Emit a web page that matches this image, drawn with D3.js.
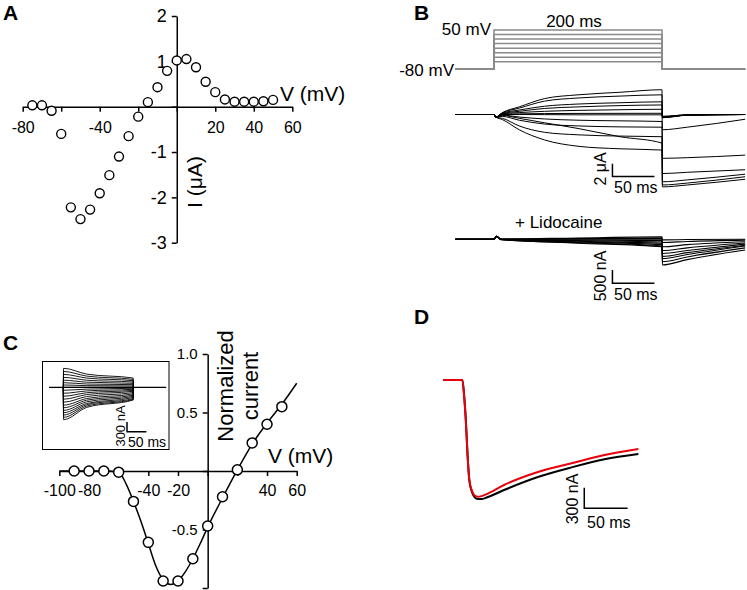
<!DOCTYPE html>
<html>
<head>
<meta charset="utf-8">
<script src="https://cdn.jsdelivr.net/npm/d3@7/dist/d3.min.js"></script>
<style>
  body { margin: 0; background: #fff; }
  svg text { font-family: "Liberation Sans", Arial, Helvetica, sans-serif; fill: #000; }
</style>
</head>
<body>
<script>
// ---- panel A: I-V relation (uA vs mV)
var ivA_V = [-75,-70,-65,-60,-55,-50,-45,-40,-35,-30,-25,-20,-15,-10,-5,0,5,10,15,20,25,30,35,40,45,50];
var ivA_I = [0.03,0.03,-0.09,-0.6,-2.22,-2.48,-2.27,-1.91,-1.51,-1.1,-0.65,-0.22,0.1,0.43,0.79,1.02,1.05,0.87,0.55,0.32,0.16,0.11,0.11,0.11,0.12,0.15];
var aTicksX = [-80,-60,-40,-20,0,20,40,60];
var aLabelsX = [-80,-40,20,40,60];
var aTicksY = [-3,-2,-1,0,1,2];
var aLabelsY = [2,1,-1,-2,-3];

// ---- panel B: voltage protocol (mV) and current traces
var holdV = -80;
var protoSteps = [50,35,20,5,-10,-25,-40,-55];
var pulseT = [10,30,60,100,150,200];          // ms
var currB = [                                  // uA
  [0.3,1.2,2.5,3.1,3.5,3.9],
  [0.25,1.0,2.1,2.6,2.9,3.1],
  [0.2,0.7,1.3,1.65,1.85,2.0],
  [0.15,0.5,0.95,1.2,1.4,1.5],
  [0.1,0.3,0.5,0.65,0.75,0.82],
  [0.05,0.1,0.15,0.17,0.18,0.19],
  [0,0,-0.02,-0.05,-0.05,-0.05],
  [-0.1,-0.4,-0.7,-0.9,-1.0,-1.1],
  [-0.3,-0.9,-1.5,-1.8,-1.95,-2.0],
  [-0.6,-1.8,-2.8,-3.2,-3.4,-3.5],
  [-0.15,-0.6,-1.3,-2.2,-3.5,-4.5],
  [-0.8,-2.4,-4.0,-5.0,-5.4,-5.6]
];
var tailT = [200.5,230,299];
var tailB = [
  [-11.1,-10.8,-9.8],
  [-0.5,-0.1,0],
  [-0.5,-0.1,0],
  [-0.4,-0.1,0],
  [-0.4,-0.1,0],
  [-0.3,-0.05,0],
  [-0.3,-0.05,0],
  [-2.4,-2.0,-0.75],
  [-6.9,-6.8,-6.4],
  [-9.3,-9.1,-8.7],
  [-10.6,-10.3,-9.4],
  [-11.4,-11.1,-10.2]
];
var lidoT = [8,100,200];
var currL = [                                  // nA
  [10,50,90],
  [5,25,40],
  [0,0,0],
  [0,-25,-50],
  [-5,-50,-100],
  [-5,-75,-150],
  [-10,-100,-200],
  [-10,-125,-250],
  [-15,-145,-280]
];
var tailL = [
  [-20,-10,0],
  [-120,-80,-30],
  [-280,-200,-90],
  [-420,-320,-140],
  [-530,-420,-180],
  [-640,-500,-220],
  [-720,-570,-250],
  [-840,-660,-320],
  [-960,-760,-400]
];

// ---- panel C: normalized I-V with fit, inset traces
var ivC_V = [-90,-80,-70,-60,-50,-40,-30,-20,-10,0,10,20,30,40,50];
var ivC_I = [0,0,0,-0.01,-0.26,-0.61,-0.94,-0.94,-0.75,-0.47,-0.22,0.01,0.24,0.40,0.55];
var fitC_V = [-100,-90,-80,-70,-60,-55,-50,-45,-40,-35,-30,-25,-20,-15,-10,-5,0,10,20,30,40,50,60];
var fitC_I = [0,0,0,0,-0.01,-0.11,-0.26,-0.43,-0.62,-0.81,-0.93,-0.97,-0.94,-0.86,-0.75,-0.62,-0.48,-0.23,0.01,0.23,0.41,0.57,0.75];
var cTicksX = [-100,-80,-60,-40,-20,0,20,40,60];
var cLabelsX = [-100,-80,-40,-20,40,60];
var cTicksY = [-1,-0.5,0,0.5,1];
var cLabelsY = [1,0.5,-0.5];
var insetT = [60,180];
var insetPeak = [575,480,390,300,215,140,70,0,-90,-180,-270,-360,-450,-540,-620,-700,-770,-840,-910,-980];
var insetMid  = [400,340,280,215,155,100,50,0,-55,-110,-165,-220,-280,-340,-390,-440,-490,-530,-570,-610];
var insetEnd  = [280,240,200,160,120,80,40,0,-30,-60,-90,-120,-160,-200,-240,-275,-310,-340,-365,-385];

// ---- panel D: superimposed traces (nA)
var dT     = [0,22,24,26,28,30,33,36,40,44,50,70,110,148,186,225];
var dBlack = [0,0,-218,-582,-1092,-1456,-1630,-1703,-1732,-1732,-1710,-1601,-1408,-1271,-1154,-1077];
var dRed   = [0,0,-230,-600,-1100,-1450,-1610,-1680,-1698,-1690,-1660,-1528,-1335,-1212,-1092,-1004];

var W = 747, H = 590;
var svg = d3.select("body").append("svg").attr("width", W).attr("height", H);

function styleAxis(g, size) {
  g.attr("font-family", null).attr("font-size", size);
  g.select(".domain").attr("stroke", "#000").attr("stroke-width", 1.5);
  g.selectAll(".tick line").attr("stroke", "#000").attr("stroke-width", 1.5);
  g.selectAll(".tick text").attr("fill", "#000");
}
function txt(x, y, s, size, anchor) {
  return svg.append("text").attr("x", x).attr("y", y).attr("font-size", size)
    .attr("text-anchor", anchor || "start").text(s);
}
function vtxt(x, y, s, size) {
  return svg.append("text").attr("transform", "translate(" + x + "," + y + ") rotate(-90)")
    .attr("font-size", size).attr("text-anchor", "middle").text(s);
}
function fmtNum(d) { return String(d); }
function fmtOne(d) { return (d < 0 ? "-" : "") + Math.abs(d).toFixed(1); }

// panel letters
[["A",3,20],["B",414,20],["C",3,350],["D",414,324]].forEach(function(p) {
  txt(p[1], p[2], p[0], 21).attr("font-weight", "bold");
});

// ================= A =================
var xA = d3.scaleLinear().domain([-80, 60]).range([22.7, 292.3]);
var yA = d3.scaleLinear().domain([-3, 2]).range([242.7, 16]);

svg.append("g").attr("transform", "translate(0," + yA(0) + ")")
  .call(d3.axisBottom(xA).tickValues(aTicksX).tickSize(5).tickSizeOuter(0).tickPadding(10)
    .tickFormat(function(d) { return aLabelsX.indexOf(d) >= 0 ? fmtNum(d) : ""; }))
  .call(styleAxis, 16);
svg.append("g").attr("transform", "translate(" + xA(0) + ",0)")
  .call(d3.axisLeft(yA).tickValues(aTicksY).tickSize(5).tickSizeOuter(0).tickPadding(5)
    .tickFormat(function(d) { return aLabelsY.indexOf(d) >= 0 ? fmtNum(d) : ""; }))
  .call(styleAxis, 18);

svg.append("g").selectAll("circle").data(d3.zip(ivA_V, ivA_I)).enter().append("circle")
  .attr("cx", function(d) { return xA(d[0]); })
  .attr("cy", function(d) { return yA(d[1]); })
  .attr("r", 4.5).attr("fill", "#fff").attr("stroke", "#000").attr("stroke-width", 1.4);

txt(280, 101, "V (mV)", 21);
vtxt(202, 182, "I (\u03bcA)", 21);

// ================= B =================
var xB = d3.scaleLinear().domain([-50, 300]).range([452, 746]);
var yV = d3.scaleLinear().domain([-80, 50]).range([69.3, 30]);
var yB = d3.scaleLinear().domain([-12, 5]).range([190.7, 82.75]);
var yL = d3.scaleLinear().domain([-1000, 300]).range([266, 231.3]);

var protoLine = d3.line().x(function(d) { return xB(d[0]); }).y(function(d) { return yV(d[1]); });
svg.append("g").selectAll("path").data(protoSteps).enter().append("path")
  .attr("d", function(v) {
    return protoLine([[-46, holdV], [0, holdV], [0, v], [200, v], [200, holdV], [299, holdV]]);
  })
  .attr("fill", "none").attr("stroke", "#8a8a8a").attr("stroke-width", 1.5);

txt(491, 35, "50 mV", 17, "end");
txt(454, 75.5, "-80 mV", 17, "end");
txt(574, 26.5, "200 ms", 17, "middle");

var trLine = d3.line().curve(d3.curveMonotoneX)
  .x(function(d) { return xB(d[0]); }).y(function(d) { return yB(d[1]); });
svg.append("g").selectAll("path").data(currB).enter().append("path")
  .attr("d", function(c, i) {
    var pts = [[-46, 0], [0, 0], [2, -0.4]];
    pulseT.forEach(function(t, k) { pts.push([t, c[k]]); });
    tailT.forEach(function(t, k) { pts.push([t, tailB[i][k]]); });
    return trLine(pts);
  })
  .attr("fill", "none").attr("stroke", "#000").attr("stroke-width", 1);

var lLine = d3.line().curve(d3.curveMonotoneX)
  .x(function(d) { return xB(d[0]); }).y(function(d) { return yL(d[1]); });
svg.append("g").selectAll("path").data(currL).enter().append("path")
  .attr("d", function(c, i) {
    var pts = [[-46, 0], [0, 0], [3, 110]];
    lidoT.forEach(function(t, k) { pts.push([t, c[k]]); });
    tailT.forEach(function(t, k) { pts.push([t, tailL[i][k]]); });
    return lLine(pts);
  })
  .attr("fill", "none").attr("stroke", "#000").attr("stroke-width", 1.1);

txt(515, 228, "+ Lidocaine", 17);

// scale bars B
function scaleBar(x0, x1, y0, y1) {
  svg.append("path").attr("d", "M" + x0 + "," + y1 + "L" + x0 + "," + y0 + "L" + x1 + "," + y0)
    .attr("fill", "none").attr("stroke", "#000").attr("stroke-width", 1.5);
}
scaleBar(xB(141), xB(191), yB(-9.75), yB(-7.75));
vtxt(606, 169, "2 \u03bcA", 16);
txt(614, 193, "50 ms", 16);
scaleBar(xB(141), xB(191), yL(-1650), yL(-1150));
vtxt(606, 276, "500 nA", 16);
txt(614, 300, "50 ms", 16);

// ================= C =================
var xC = d3.scaleLinear().domain([-100, 60]).range([59.3, 296.7]);
var yC = d3.scaleLinear().domain([-1, 1]).range([588, 354]);

svg.append("g").attr("transform", "translate(0," + yC(0) + ")")
  .call(d3.axisBottom(xC).tickValues(cTicksX).tickSize(5).tickSizeOuter(0).tickPadding(9)
    .tickFormat(function(d) { return cLabelsX.indexOf(d) >= 0 ? fmtNum(d) : ""; }))
  .call(styleAxis, 16);
svg.append("g").attr("transform", "translate(" + xC(0) + ",0)")
  .call(d3.axisLeft(yC).tickValues(cTicksY).tickSize(5).tickSizeOuter(0).tickPadding(5)
    .tickFormat(function(d) { return cLabelsY.indexOf(d) >= 0 ? fmtOne(d) : ""; }))
  .call(styleAxis, 15);

svg.append("path").datum(d3.zip(fitC_V, fitC_I))
  .attr("d", d3.line().curve(d3.curveMonotoneX)
    .x(function(d) { return xC(d[0]); }).y(function(d) { return yC(d[1]); }))
  .attr("fill", "none").attr("stroke", "#000").attr("stroke-width", 1.5);

svg.append("g").selectAll("circle").data(d3.zip(ivC_V, ivC_I)).enter().append("circle")
  .attr("cx", function(d) { return xC(d[0]); })
  .attr("cy", function(d) { return yC(d[1]); })
  .attr("r", 5).attr("fill", "#fff").attr("stroke", "#000").attr("stroke-width", 1.5);

txt(268, 463, "V (mV)", 21);
vtxt(233, 386, "Normalized", 22);
vtxt(258, 386, "current", 22);

// inset
var xI = d3.scaleLinear().domain([-37, 265]).range([49, 166.2]);
var yI = d3.scaleLinear().domain([-1000, 700]).range([420.3, 364.2]);
svg.append("rect").attr("x", 42.5).attr("y", 361.5).attr("width", 126.5).attr("height", 88)
  .attr("fill", "#fff").attr("stroke", "#000").attr("stroke-width", 1);
var iLine = d3.line().curve(d3.curveMonotoneX)
  .x(function(d) { return xI(d[0]); }).y(function(d) { return yI(d[1]); });
svg.append("path").attr("d", iLine([[-37, 0], [265, 0]]))
  .attr("fill", "none").attr("stroke", "#000").attr("stroke-width", 1.2);
svg.append("g").selectAll("path").data(insetPeak).enter().append("path")
  .attr("d", function(p, i) {
    return iLine([[0, 0], [0.5, p], [insetT[0], insetMid[i]], [insetT[1], insetEnd[i]], [180.5, 0]]);
  })
  .attr("fill", "none").attr("stroke", "#000").attr("stroke-width", 0.9);
scaleBar(xI(164), xI(214), yI(-1350), yI(-1050));
vtxt(125, 426, "300 nA", 13);
txt(128, 447, "50 ms", 14);

// ================= D =================
var xD = d3.scaleLinear().domain([0, 230]).range([443.3, 642.7]);
var yD = d3.scaleLinear().domain([-1800, 0]).range([503.7, 380]);
var dLine = d3.line().curve(d3.curveMonotoneX)
  .x(function(d) { return xD(d[0]); }).y(function(d) { return yD(d[1]); });
svg.append("path").datum(d3.zip(dT, dBlack)).attr("d", dLine)
  .attr("fill", "none").attr("stroke", "#000").attr("stroke-width", 2);
svg.append("path").datum(d3.zip(dT, dRed)).attr("d", dLine)
  .attr("fill", "none").attr("stroke", "#e8000b").attr("stroke-width", 2);
scaleBar(xD(162.6), xD(212.6), yD(-1867), yD(-1567));
vtxt(578, 499, "300 nA", 16);
txt(587, 528, "50 ms", 16);
</script>
</body>
</html>
